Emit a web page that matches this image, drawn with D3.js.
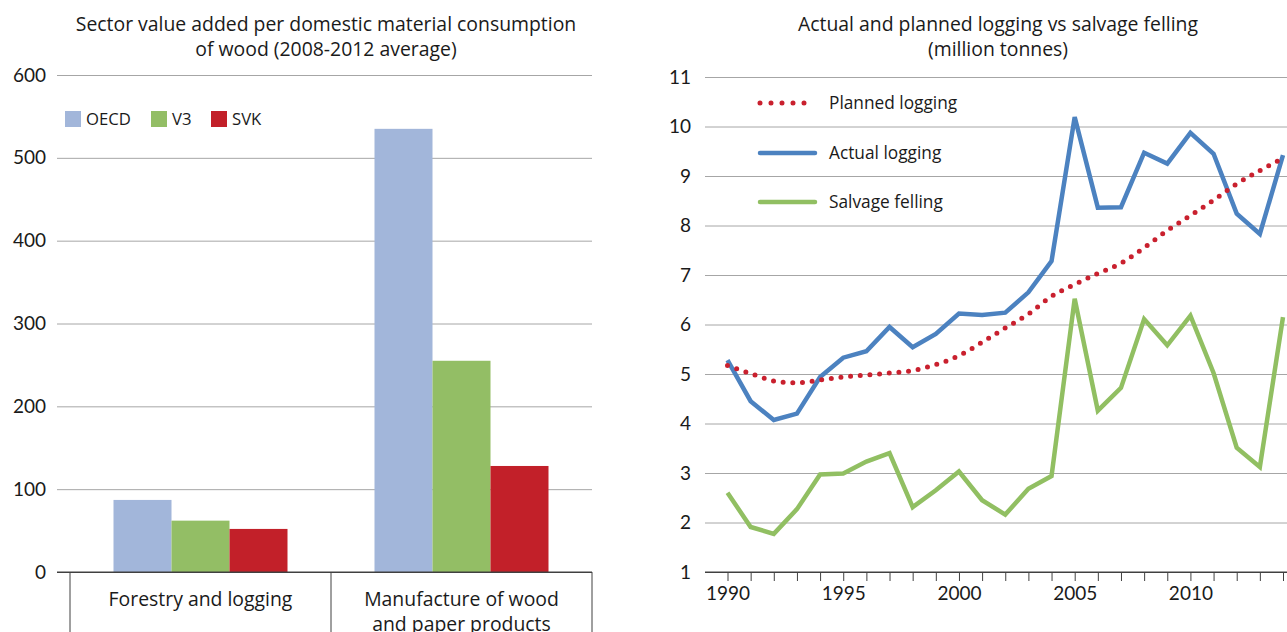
<!DOCTYPE html>
<html>
<head>
<meta charset="utf-8">
<script src="https://cdn.jsdelivr.net/npm/d3@7"></script>
<style>
  html, body { margin: 0; padding: 0; background: #fff; }
  svg { display: block; font-family: "Open Sans", "Lato", sans-serif; }
</style>
</head>
<body>
<svg id="chart" width="1287" height="632"></svg>
<script>
// ---------- Left chart data ----------
const barCategories = [["Forestry and logging"], ["Manufacture of wood", "and paper products"]];
const barSeries = ["OECD", "V3", "SVK"];
const oecdValues = [87, 535];
const v3Values = [62, 255];
const svkValues = [52, 128];
const barTicks = [0, 100, 200, 300, 400, 500, 600];
const barTitle = ["Sector value added per domestic material consumption", "of wood (2008-2012 average)"];

// ---------- Right chart data ----------
const years = [1990,1991,1992,1993,1994,1995,1996,1997,1998,1999,2000,2001,2002,2003,2004,2005,2006,2007,2008,2009,2010,2011,2012,2013,2014];
const plannedLogging = [5.17,5.01,4.86,4.82,4.88,4.94,4.98,5.02,5.07,5.19,5.37,5.64,5.93,6.21,6.57,6.81,7.03,7.24,7.55,7.90,8.20,8.51,8.84,9.11,9.36];
const actualLogging = [5.28,4.45,4.07,4.20,4.94,5.33,5.46,5.95,5.54,5.81,6.22,6.19,6.24,6.65,7.28,10.19,8.36,8.37,9.47,9.25,9.87,9.45,8.24,7.83,9.42];
const salvageFelling = [2.60,1.91,1.77,2.27,2.97,2.99,3.23,3.40,2.31,2.65,3.03,2.45,2.16,2.68,2.94,6.52,4.26,4.72,6.11,5.58,6.18,5.02,3.51,3.12,6.15];
const lineTicks = [1,2,3,4,5,6,7,8,9,10,11];
const yearLabels = [1990, 1995, 2000, 2005, 2010];
const lineSeriesNames = ["Planned logging", "Actual logging", "Salvage felling"];
const lineTitle = ["Actual and planned logging vs salvage felling", "(million tonnes)"];

const svg = d3.select("#chart");
const textColor = "#1a1a1a";
const gridColor = "#a6a6a6";
const axisColor = "#404040";
const tickFont = "Lato, sans-serif";

// ================= LEFT CHART =================
const barColors = { OECD: "#a2b6da", V3: "#93be65", SVK: "#c22029" };
const yL = d3.scaleLinear().domain([0, 600]).range([572, 75]);
const xL = d3.scaleBand().domain(barCategories.map((d, i) => i)).range([70, 592]).paddingInner(0).paddingOuter(0);
const barW = 58;

const left = svg.append("g");

left.selectAll("text.title").data(barTitle).join("text")
  .attr("x", 326).attr("y", (d, i) => 31 + i * 25)
  .attr("text-anchor", "middle").attr("font-size", 19.4).attr("fill", textColor)
  .text(d => d);

// gridlines
const yAxisL = d3.axisLeft(yL).tickValues(barTicks).tickSize(-(592 - 57)).tickPadding(11).tickFormat(d3.format("d"));
const gL = left.append("g").attr("transform", "translate(57,0)").call(yAxisL);
gL.select(".domain").remove();
gL.selectAll(".tick line").attr("stroke", d => d === 0 ? axisColor : gridColor).attr("stroke-width", 1);
gL.selectAll(".tick text").attr("font-size", 19).attr("fill", textColor).attr("font-family", tickFont);

// bars
const barData = [];
barCategories.forEach((c, i) => {
  [oecdValues, v3Values, svkValues].forEach((arr, j) => {
    barData.push({ cat: i, series: barSeries[j], value: arr[i], j });
  });
});
left.selectAll("rect.bar").data(barData).join("rect")
  .attr("x", d => xL(d.cat) + (xL.bandwidth() - 3 * barW) / 2 + d.j * barW)
  .attr("width", barW)
  .attr("y", d => yL(d.value))
  .attr("height", d => yL(0) - yL(d.value))
  .attr("fill", d => barColors[d.series]);

// baseline redraw on top
left.append("line").attr("x1", 57).attr("x2", 592).attr("y1", yL(0)).attr("y2", yL(0)).attr("stroke", axisColor);

// category separators
const seps = [70, ...barCategories.map((d, i) => xL(i) + xL.bandwidth())];
left.selectAll("line.sep").data(seps).join("line")
  .attr("x1", d => d).attr("x2", d => d).attr("y1", yL(0)).attr("y2", 632)
  .attr("stroke", axisColor);

// category labels
barCategories.forEach((lines, i) => {
  left.append("text")
    .attr("x", xL(i) + xL.bandwidth() / 2).attr("y", 606)
    .attr("text-anchor", "middle").attr("font-size", 19.4).attr("fill", textColor)
    .selectAll("tspan").data(lines).join("tspan")
    .attr("x", xL(i) + xL.bandwidth() / 2).attr("dy", (d, k) => k === 0 ? 0 : 25)
    .text(d => d);
});

// legend
const legX = [65, 151, 211];
barSeries.forEach((s, i) => {
  left.append("rect").attr("x", legX[i]).attr("y", 111).attr("width", 16).attr("height", 16).attr("fill", barColors[s]);
  left.append("text").attr("x", legX[i] + 21).attr("y", 125).attr("font-size", 16.7).attr("fill", textColor).text(s);
});

// ================= RIGHT CHART =================
const lineColors = { planned: "#c9202e", actual: "#4c82c0", salvage: "#91bf62" };
const yR = d3.scaleLinear().domain([1, 11]).range([572, 77]);
const xR = d3.scaleLinear().domain([1990, 2014]).range([727.5, 1283]);

const right = svg.append("g");

right.selectAll("text.title").data(lineTitle).join("text")
  .attr("x", 998).attr("y", (d, i) => 31 + i * 25)
  .attr("text-anchor", "middle").attr("font-size", 19.4).attr("fill", textColor)
  .text(d => d);

const yAxisR = d3.axisLeft(yR).tickValues(lineTicks).tickSize(-(1287 - 705)).tickPadding(14).tickFormat(d3.format("d"));
const gR = right.append("g").attr("transform", "translate(705,0)").call(yAxisR);
gR.select(".domain").remove();
gR.selectAll(".tick line").attr("stroke", d => d === 1 ? axisColor : gridColor).attr("stroke-width", 1);
gR.selectAll(".tick text").attr("font-size", 19).attr("fill", textColor).attr("font-family", tickFont);

// x axis
const xAxisR = d3.axisBottom(xR).tickValues(years).tickSize(9).tickPadding(6)
  .tickFormat(d => yearLabels.includes(d) ? d : "");
const gX = right.append("g").attr("transform", `translate(0,${yR(1)})`).call(xAxisR);
gX.select(".domain").remove();
gX.selectAll(".tick line").attr("stroke", axisColor);
gX.selectAll(".tick text").attr("font-size", 19).attr("fill", textColor).attr("font-family", tickFont);
right.append("line").attr("x1", 705).attr("x2", 1287).attr("y1", yR(1)).attr("y2", yR(1)).attr("stroke", axisColor);

const lineGen = d3.line().x((d, i) => xR(years[i])).y(d => yR(d)).curve(d3.curveLinear);
const smoothGen = d3.line().x((d, i) => xR(years[i])).y(d => yR(d)).curve(d3.curveMonotoneX);

right.append("path").datum(salvageFelling).attr("d", lineGen)
  .attr("fill", "none").attr("stroke", lineColors.salvage).attr("stroke-width", 4.5).attr("stroke-linejoin", "miter");
right.append("path").datum(actualLogging).attr("d", lineGen)
  .attr("fill", "none").attr("stroke", lineColors.actual).attr("stroke-width", 4.5).attr("stroke-linejoin", "miter");
right.append("path").datum(plannedLogging).attr("d", smoothGen)
  .attr("fill", "none").attr("stroke", lineColors.planned).attr("stroke-width", 5)
  .attr("stroke-linecap", "round").attr("stroke-dasharray", "0 9.7");

// legend
const legItems = [
  { name: lineSeriesNames[0], color: lineColors.planned, dashed: true, y: 103 },
  { name: lineSeriesNames[1], color: lineColors.actual, dashed: false, y: 153 },
  { name: lineSeriesNames[2], color: lineColors.salvage, dashed: false, y: 202 }
];
legItems.forEach(it => {
  const l = right.append("line").attr("x1", 760).attr("x2", 815).attr("y1", it.y).attr("y2", it.y)
    .attr("stroke", it.color).attr("stroke-linecap", "round");
  if (it.dashed) l.attr("stroke-width", 5).attr("stroke-dasharray", "0 11");
  else l.attr("stroke-width", 4.5);
  right.append("text").attr("x", 829).attr("y", it.y + 6).attr("font-size", 17.3).attr("fill", textColor).text(it.name);
});
</script>
</body>
</html>
